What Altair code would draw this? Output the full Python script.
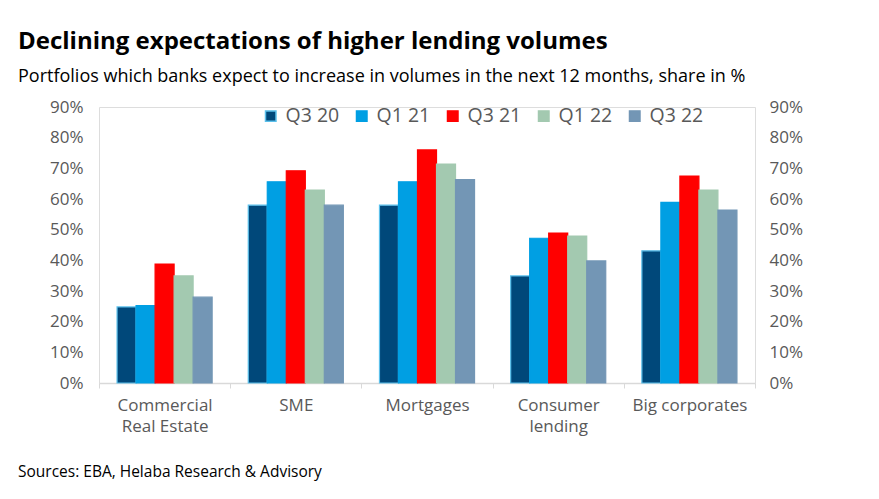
import altair as alt
import pandas as pd

categories = ["Commercial|Real Estate", "SME", "Mortgages", "Consumer|lending", "Big corporates"]
series = ["Q3 20", "Q1 21", "Q3 21", "Q1 22", "Q3 22"]
colors = ["#00487a", "#009fe3", "#ff0000", "#a3c9b0", "#7396b5"]
outline = ["#5bc0eb", "#009fe3", "#ff0000", "#a3c9b0", "#7396b5"]

q3_20 = [24.8, 58.0, 58.0, 34.9, 43.1]
q1_21 = [25.2, 65.6, 65.6, 47.2, 58.9]
q3_21 = [38.8, 69.2, 76.0, 48.9, 67.5]
q1_22 = [34.9, 62.9, 71.4, 47.9, 62.9]
q3_22 = [28.0, 58.0, 66.3, 39.8, 56.4]

title_text = "Declining expectations of higher lending volumes"
subtitle_text = "Portfolios which banks expect to increase in volumes in the next 12 months, share in %"
source_text = "Sources: EBA, Helaba Research & Advisory"

rows = []
for s, vals in zip(series, [q3_20, q1_21, q3_21, q1_22, q3_22]):
    for c, v in zip(categories, vals):
        rows.append({"category": c, "series": s, "value": v})
df = pd.DataFrame(rows)

FONT = "Open Sans"
W, H = 656, 276
LABEL_COLOR = "#595959"

x_enc = alt.X(
    "category:N",
    sort=categories,
    scale=alt.Scale(paddingInner=0, paddingOuter=0),
    axis=alt.Axis(
        title=None,
        labelExpr="split(datum.label, '|')",
        labelAngle=0,
        labelFontSize=17,
        labelColor=LABEL_COLOR,
        labelFont=FONT,
        labelPadding=9,
        labelLineHeight=21,
        tickBand="extent",
        tickSize=5,
        tickColor="#d9d9d9",
        domainColor="#d9d9d9",
        domainWidth=1.5,
    ),
)
xoff = alt.XOffset("series:N", sort=series, scale=alt.Scale(paddingOuter=0.95, paddingInner=0))

legend = alt.Legend(
    title=None,
    orient="none",
    legendX=162,
    legendY=-1,
    direction="horizontal",
    symbolType="square",
    symbolSize=110,
    symbolStrokeWidth=1.5,
    labelFontSize=19.5,
    labelColor=LABEL_COLOR,
    labelFont=FONT,
    columnPadding=12,
    labelOffset=5,
)
color_enc = alt.Color("series:N", sort=series, scale=alt.Scale(domain=series, range=colors), legend=legend)
stroke_enc = alt.Stroke("series:N", sort=series, scale=alt.Scale(domain=series, range=outline), legend=legend)

def yaxis(orient, pad):
    return alt.Axis(
        orient=orient,
        title=None,
        values=list(range(0, 91, 10)),
        labelExpr="datum.value + '%'",
        labelFontSize=17,
        labelColor=LABEL_COLOR,
        labelFont=FONT,
        labelPadding=pad,
        domain=False,
        ticks=False,
        grid=False,
    )

bars = alt.Chart(df).mark_bar(strokeWidth=1.2).encode(
    x=x_enc,
    xOffset=xoff,
    y=alt.Y("value:Q", scale=alt.Scale(domain=[0, 90], nice=False), axis=yaxis("left", 16)),
    color=color_enc,
    stroke=stroke_enc,
)

bars_right = alt.Chart(df).mark_bar(opacity=0).encode(
    x=x_enc,
    xOffset=xoff,
    y=alt.Y("value:Q", scale=alt.Scale(domain=[0, 90], nice=False), axis=yaxis("right", 14)),
)

def text_layer(txt, xpos, ypos, size, weight="normal", color="#000000"):
    return alt.Chart(pd.DataFrame({"t": [txt]})).mark_text(
        align="left", baseline="alphabetic", fontSize=size, fontWeight=weight,
        font=FONT, color=color,
    ).encode(text="t:N", x=alt.value(xpos), y=alt.value(ypos))

title = text_layer(title_text, -81, -58, 24, "bold")
subtitle = text_layer(subtitle_text, -81, -25, 18)
source = text_layer(source_text, -81, 370, 15.5)

chart = alt.layer(bars, bars_right, title, subtitle, source).resolve_scale(
    y="independent"
).properties(
    width=W,
    height=H,
    autosize=alt.AutoSizeParams(type="none"),
    padding={"left": 91, "top": 99, "right": 116, "bottom": 108},
).configure_view(stroke=None).configure(background="white")

chart.save("out.html", embed_options={"renderer": "svg", "actions": False})
